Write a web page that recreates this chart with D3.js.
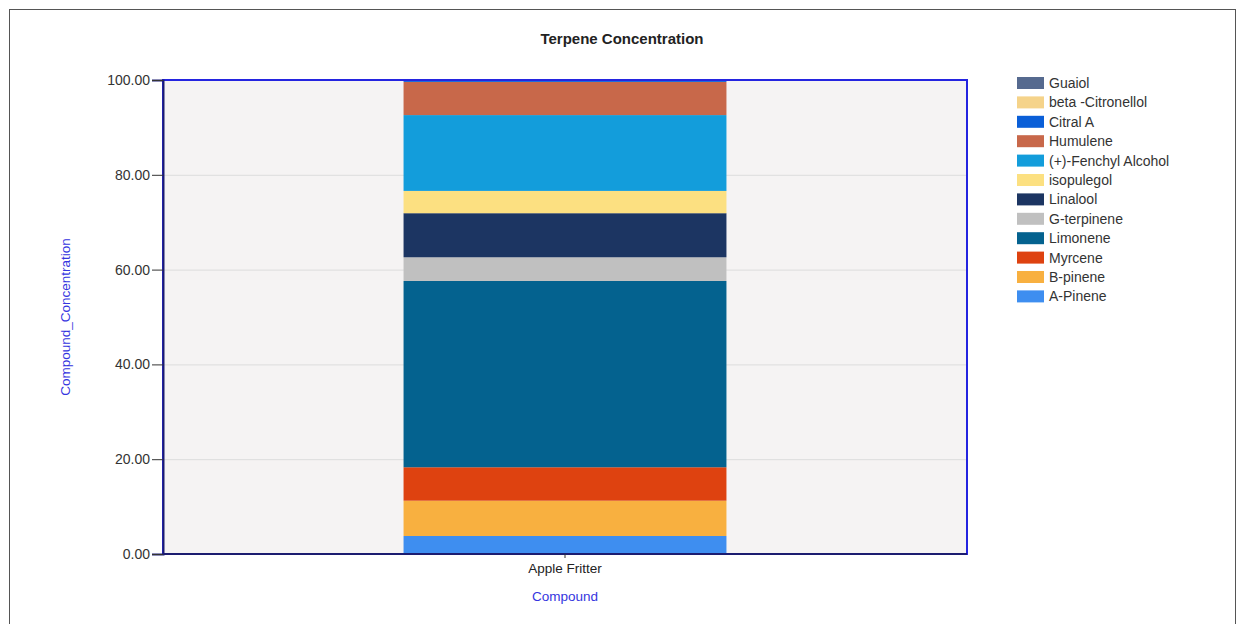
<!DOCTYPE html>
<html>
<head>
<meta charset="utf-8">
<script src="https://cdn.jsdelivr.net/npm/d3@7"></script>
<style>
  html, body { margin: 0; padding: 0; background: #fff; }
  svg { display: block; font-family: "Liberation Sans", Arial, sans-serif; }
</style>
</head>
<body>
<svg id="chart" width="1237" height="624"></svg>
<script>
// Sample shown on the x axis
const categories = ["Apple Fritter"];

// Compounds, stacked bottom to top
const compounds = ["A-Pinene", "B-pinene", "Myrcene", "Limonene", "G-terpinene", "Linalool",
  "isopulegol", "(+)-Fenchyl Alcohol", "Humulene", "Citral A", "beta -Citronellol", "Guaiol"];

// Concentration of each compound (%) for Apple Fritter
const concentrations = [3.8, 7.45, 7.05, 39.3, 5.0, 9.3, 4.7, 16.0, 7.0, 0.25, 0.05, 0.1];

const compoundColors = ["#3e8ef0", "#f8b040", "#de4210", "#04628f", "#c0c0c0", "#1c3562",
  "#fce081", "#139ddb", "#c8684a", "#0a5fd8", "#f5d38a", "#566a8f"];

const yTicks = [0, 20, 40, 60, 80, 100];

const svg = d3.select("#chart");
const plot = { left: 163, right: 967, top: 80, bottom: 554 };

// outer frame
svg.append("rect")
  .attr("x", 9.5).attr("y", 9.5)
  .attr("width", 1226).attr("height", 700)
  .attr("fill", "#fff").attr("stroke", "#555").attr("stroke-width", 1);

const x = d3.scaleBand().domain(categories)
  .range([plot.left, plot.right]).paddingInner(0).paddingOuter(0.745);
const y = d3.scaleLinear().domain([0, 100]).range([plot.bottom, plot.top]);

// plot background
svg.append("rect")
  .attr("x", plot.left).attr("y", plot.top)
  .attr("width", plot.right - plot.left).attr("height", plot.bottom - plot.top)
  .attr("fill", "#f5f3f3");

// gridlines
svg.append("g").selectAll("line")
  .data(yTicks.filter(t => t > 0 && t < 100))
  .join("line")
  .attr("x1", plot.left).attr("x2", plot.right)
  .attr("y1", d => y(d) + 0.5).attr("y2", d => y(d) + 0.5)
  .attr("stroke", "#dcdcdc").attr("stroke-width", 1);

// stacked bar
const rows = categories.map(c => {
  const r = { category: c };
  compounds.forEach((k, i) => r[k] = concentrations[i]);
  return r;
});
const series = d3.stack().keys(compounds)(rows);
const color = d3.scaleOrdinal().domain(compounds).range(compoundColors);

svg.append("g").selectAll("g")
  .data(series)
  .join("g")
  .attr("fill", d => color(d.key))
  .selectAll("rect")
  .data(d => d)
  .join("rect")
  .attr("x", d => x(d.data.category))
  .attr("width", x.bandwidth())
  .attr("y", d => y(d[1]))
  .attr("height", d => y(d[0]) - y(d[1]));

// plot frame
svg.append("rect")
  .attr("x", plot.left).attr("y", plot.top)
  .attr("width", plot.right - plot.left).attr("height", plot.bottom - plot.top)
  .attr("fill", "none").attr("stroke", "#2424e0").attr("stroke-width", 2);

// y axis
const yAxis = d3.axisLeft(y).tickValues(yTicks).tickFormat(d3.format(".2f"))
  .tickSize(11).tickPadding(2);
const gy = svg.append("g").attr("transform", `translate(${plot.left},0)`).call(yAxis);
gy.select(".domain").attr("stroke", "#1c1c70").attr("stroke-width", 2);
gy.selectAll(".tick line").attr("stroke", "#333");
gy.selectAll(".tick text").attr("fill", "#333").style("font-size", "14px")
  .style("font-family", "Liberation Sans, Arial, sans-serif");

// x axis
const xAxis = d3.axisBottom(x).tickSize(4).tickPadding(5);
const gx = svg.append("g").attr("transform", `translate(0,${plot.bottom})`).call(xAxis);
gx.select(".domain").attr("stroke", "#1c1c70").attr("stroke-width", 2)
  .attr("d", `M${plot.left},0H${plot.right}`);
gx.selectAll(".tick line").attr("stroke", "#333");
gx.selectAll(".tick text").attr("fill", "#222").style("font-size", "13.5px")
  .style("font-family", "Liberation Sans, Arial, sans-serif");

// titles
svg.append("text")
  .attr("x", 622).attr("y", 44).attr("text-anchor", "middle")
  .style("font-size", "15px").style("font-weight", "bold").attr("fill", "#222")
  .text("Terpene Concentration");

svg.append("text")
  .attr("x", 565).attr("y", 601).attr("text-anchor", "middle")
  .style("font-size", "13.5px").attr("fill", "#3535e0")
  .text("Compound");

svg.append("text")
  .attr("transform", "translate(70,317) rotate(-90)")
  .attr("text-anchor", "middle")
  .style("font-size", "13.5px").attr("fill", "#3535e0")
  .text("Compound_Concentration");

// legend, top entry is the top of the stack
const legendItems = compounds.slice().reverse();
const lg = svg.append("g").attr("transform", "translate(1017,77)");
const item = lg.selectAll("g").data(legendItems).join("g")
  .attr("transform", (d, i) => `translate(0,${i * 19.4})`);
item.append("rect")
  .attr("width", 27).attr("height", 12)
  .attr("fill", d => color(d));
item.append("text")
  .attr("x", 32).attr("y", 11)
  .style("font-size", "14px").attr("fill", "#333")
  .text(d => d);
</script>
</body>
</html>
